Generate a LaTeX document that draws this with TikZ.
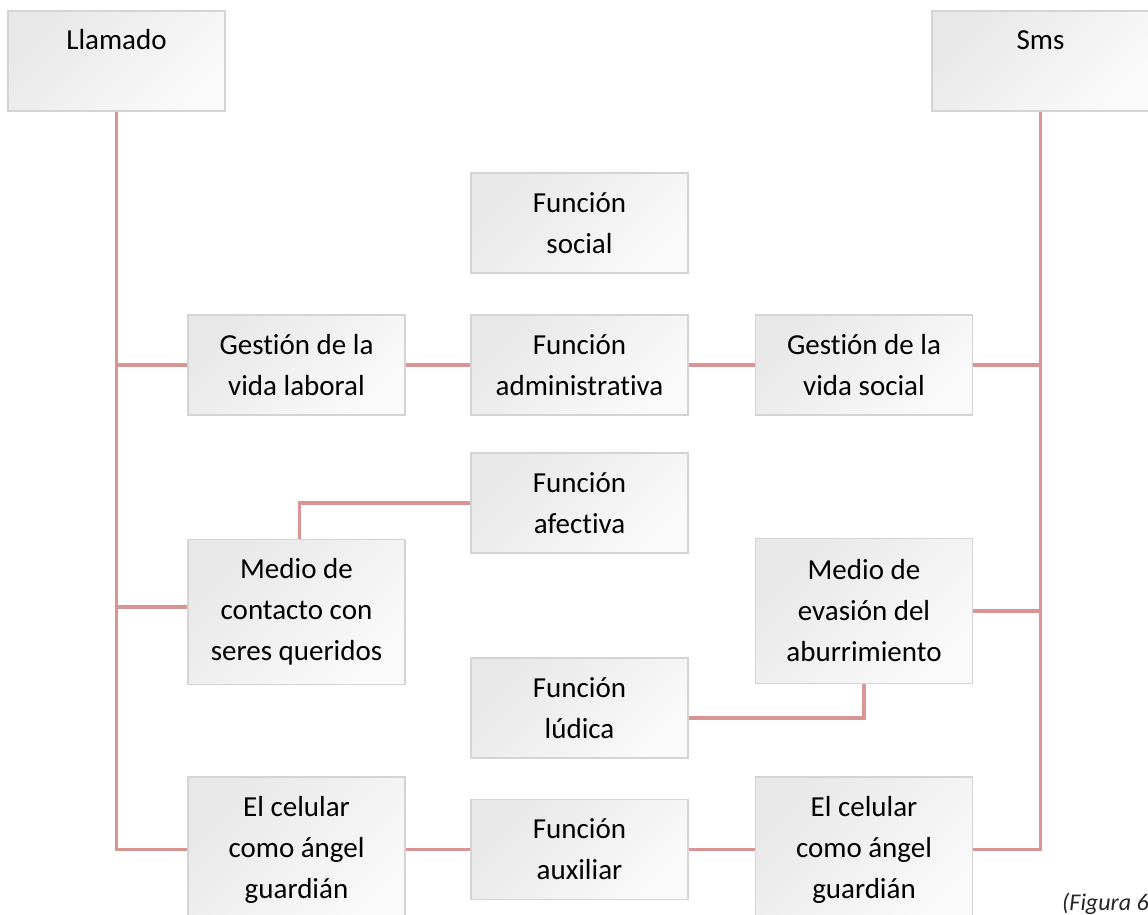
\documentclass[tikz,border=0pt]{standalone}
\usepackage{fontspec}
\setmainfont{Carlito}[Ligatures={NoCommon,NoRare}]
\definecolor{rosa}{HTML}{D99594}
\definecolor{borde}{HTML}{D4D4D4}
\tikzset{
  caja/.style={draw=borde, line width=1.3pt, top color=gray!18, bottom color=gray!4, shading angle=45,
    minimum width=217pt, minimum height=100pt, inner sep=0pt, align=center,
    font=\fontsize{29}{41}\selectfont},
  caja alta/.style={caja, minimum height=145pt},
  cabeza/.style={caja, text height=39pt, text depth=61pt},
  enlace/.style={draw=rosa, line width=3.5pt}
}
\begin{document}
\begin{tikzpicture}[x=1pt,y=-1pt]
\path[use as bounding box, clip] (0,0) rectangle (1148,915);
% cajas
\node[cabeza] (llamado) at (116.5,61) {Llamado};
\node[cabeza] (sms) at (1040.5,61) {Sms};
\node[caja] (social) at (579.5,223) {Función\\social};
\node[caja] (laboral) at (296.5,365) {Gestión de la\\vida laboral};
\node[caja] (admin) at (579.5,365) {Función\\administrativa};
\node[caja] (vidasocial) at (864,365) {Gestión de la\\vida social};
\node[caja] (afectiva) at (579.5,503) {Función\\afectiva};
\node[caja alta] (contacto) at (296.5,612) {Medio de\\contacto con\\seres queridos};
\node[caja alta] (evasion) at (864,611) {Medio de\\evasión del\\aburrimiento};
\node[caja] (ludica) at (579.5,708) {Función\\lúdica};
\node[caja alta] (celularA) at (296.5,849.5) {El celular\\como ángel\\guardián};
\node[caja] (auxiliar) at (579.5,849.5) {Función\\auxiliar};
\node[caja alta] (celularB) at (864,849.5) {El celular\\como ángel\\guardián};
\node[anchor=base west, inner sep=0pt, font=\itshape\fontsize{24}{28}\selectfont, text=black!85] (figura) at (1062,910) {(Figura 6};
% lineas
\draw[enlace] (llamado.south) |- (celularA.west);
\draw[enlace] (laboral.west) -- (laboral.west -| llamado.south);
\draw[enlace] ([yshift=5pt]contacto.west) -- ([yshift=5pt]contacto.west -| llamado.south);
\draw[enlace] (sms.south) |- (celularB.east);
\draw[enlace] (vidasocial.east) -- (vidasocial.east -| sms.south);
\draw[enlace] (evasion.east) -- (evasion.east -| sms.south);
\draw[enlace] (laboral.east) -- (admin.west);
\draw[enlace] (admin.east) -- (vidasocial.west);
\draw[enlace] (afectiva.west) -| ([xshift=3pt]contacto.north);
\draw[enlace] ([yshift=-10pt]ludica.east) -| (evasion.south);
\draw[enlace] (celularA.east) -- (auxiliar.west);
\draw[enlace] (auxiliar.east) -- (celularB.west);
\end{tikzpicture}
\end{document}
